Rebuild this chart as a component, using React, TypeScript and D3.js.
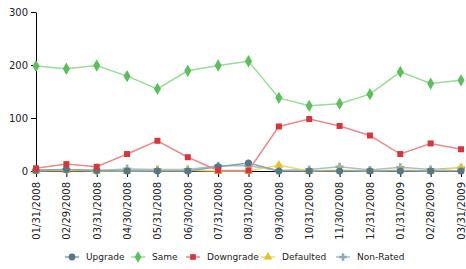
import { useEffect, useRef } from "react";
import * as d3 from "d3";

const dates = [
  "01/31/2008", "02/29/2008", "03/31/2008", "04/30/2008", "05/31/2008",
  "06/30/2008", "07/31/2008", "08/31/2008", "09/30/2008", "10/31/2008",
  "11/30/2008", "12/31/2008", "01/31/2009", "02/28/2009", "03/31/2009",
];

const upgrade = [1, 3, 1, 0, 0, 0, 8, 15, 0, 0, 0, 0, 0, 0, 0];
const same = [198, 193, 199, 179, 155, 189, 199, 207, 138, 123, 127, 145, 187, 165, 171];
const downgrade = [5, 13, 8, 32, 57, 26, 1, 1, 84, 98, 85, 67, 32, 52, 41];
const defaulted = [0, 1, 0, 0, 1, 1, 0, 0, 11, 0, 2, 0, 2, 0, 6];
const nonRated = [2, 3, 1, 4, 3, 3, 10, 10, 1, 3, 8, 2, 7, 3, 6];

const yTicks = [0, 100, 200, 300];

interface Series {
  name: string
  values: number[]
  color: string
  line: string
  symbol: d3.SymbolType
  size: number
}

const series: Series[] = [
  { name: "Non-Rated", values: nonRated, color: "#8eaab6", line: "#a9bfc8", symbol: d3.symbolCross, size: 36 },
  { name: "Defaulted", values: defaulted, color: "#e3c22b", line: "#ecd870", symbol: d3.symbolTriangle, size: 36 },
  { name: "Upgrade", values: upgrade, color: "#557885", line: "#8aa3ad", symbol: d3.symbolCircle, size: 40 },
  { name: "Downgrade", values: downgrade, color: "#d8353a", line: "#ea8a8c", symbol: d3.symbolSquare, size: 36 },
  { name: "Same", values: same, color: "#5cbf5c", line: "#98dc98", symbol: d3.symbolDiamond, size: 44 },
];

const legendOrder = ["Upgrade", "Same", "Downgrade", "Defaulted", "Non-Rated"];

export default function App() {
  const svgRef = useRef<SVGSVGElement>(null);

  useEffect(() => {
    const width = 466
    const height = 269
    const margin = { top: 12, right: 5, bottom: 98, left: 36 }

    const svg = d3.select(svgRef.current)
      .attr("width", width)
      .attr("height", height)
      .html(null)

    const x = d3.scalePoint<string>()
      .domain(dates)
      .range([margin.left, width - margin.right])

    const y = d3.scaleLinear()
      .domain([0, 300])
      .range([height - margin.bottom, margin.top])

    const font = "DejaVu Sans, sans-serif"

    // y axis
    const yAxis = svg.append("g")
      .attr("transform", `translate(${margin.left},0)`)
      .call(d3.axisLeft(y).tickValues(yTicks).tickSize(5).tickSizeOuter(0).tickPadding(3))
    yAxis.select(".domain").attr("stroke", "#000")
    yAxis.selectAll("line").attr("stroke", "#000")
    yAxis.selectAll("text").attr("font-family", font).attr("font-size", 10).attr("fill", "#222")

    // x axis
    const xAxis = svg.append("g")
      .attr("transform", `translate(0,${y(0)})`)
      .call(d3.axisBottom(x).tickSize(6).tickSizeOuter(0).tickPadding(0))
    xAxis.select(".domain").attr("stroke", "#000")
    xAxis.selectAll("line").attr("stroke", "#000")
    xAxis.selectAll("text")
      .attr("font-family", font)
      .attr("font-size", 10)
      .attr("fill", "#222")
      .attr("transform", "rotate(-90)")
      .attr("text-anchor", "end")
      .attr("x", -11)
      .attr("y", 0)
      .attr("dy", "0.33em")

    const line = d3.line<number>()
      .x((_, i) => x(dates[i]) as number)
      .y(d => y(d))

    series.forEach(s => {
      const g = svg.append("g")
      g.append("path")
        .datum(s.values)
        .attr("fill", "none")
        .attr("stroke", s.line)
        .attr("stroke-width", 1.5)
        .attr("d", line)
      g.selectAll("path.pt")
        .data(s.values)
        .join("path")
        .attr("class", "pt")
        .attr("transform", (d, i) => `translate(${x(dates[i])},${y(d)})`)
        .attr("d", d3.symbol(s.symbol, s.size)())
        .attr("fill", s.color)
    })

    // legend
    const legendX = [72, 138, 193, 268, 343]
    const legend = svg.append("g")
    legendOrder.forEach((name, i) => {
      const s = series.find(d => d.name === name)!
      const cx = legendX[i]
      const cy = 257
      legend.append("line")
        .attr("x1", cx - 7).attr("x2", cx + 7)
        .attr("y1", cy).attr("y2", cy)
        .attr("stroke", s.line)
        .attr("stroke-width", 1.5)
      legend.append("path")
        .attr("transform", `translate(${cx},${cy})`)
        .attr("d", d3.symbol(s.symbol, s.size * 0.9)())
        .attr("fill", s.color)
      legend.append("text")
        .attr("x", cx + 14)
        .attr("y", cy)
        .attr("dy", "0.35em")
        .attr("font-family", font)
        .attr("font-size", 9)
        .attr("fill", "#222")
        .text(name)
    })
  }, [])

  return (
    <div style={{ position: "absolute", left: 0, top: 0 }}>
      <svg ref={svgRef} style={{ display: "block" }}></svg>
    </div>
  )
}
